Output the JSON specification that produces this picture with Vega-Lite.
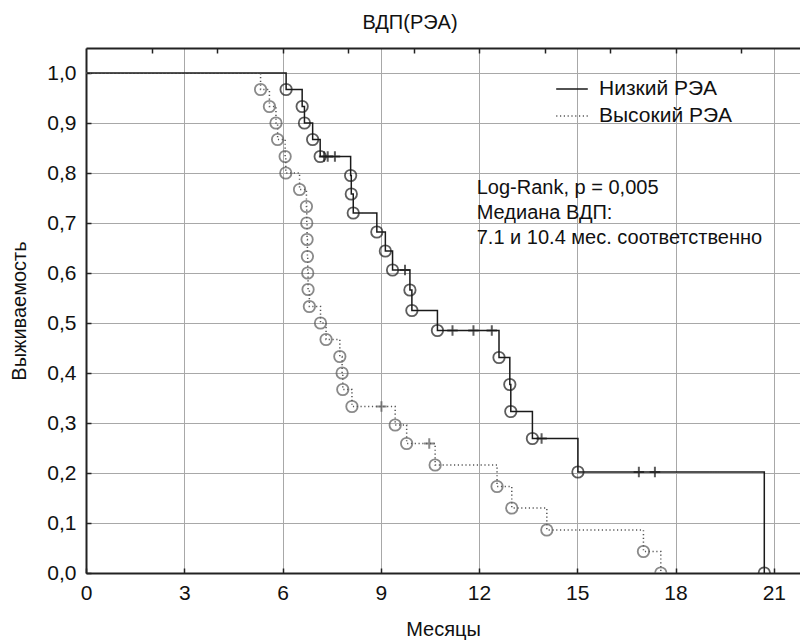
{
  "$schema": "https://vega.github.io/schema/vega-lite/v6.json",
  "autosize": "none",
  "width": 714,
  "height": 525,
  "padding": {"left": 86, "top": 48, "right": 0, "bottom": 68},
  "background": "white",
  "config": {
    "font": "Liberation Sans",
    "view": {"stroke": null},
    "axis": {"labelColor": "#111", "titleColor": "#111", "labelFont": "Liberation Sans", "titleFont": "Liberation Sans", "titleFontWeight": "normal"}
  },
  "title": {"text": "ВДП(РЭА)", "fontSize": 20, "fontWeight": "normal", "color": "#111", "anchor": "middle", "dx": -33, "offset": 14},
  "datasets": {
    "km": [
      {"group": "Низкий РЭА", "t": 0, "s": 1, "type": "start"},
      {"group": "Низкий РЭА", "t": 6.11, "s": 0.967, "type": "event"},
      {"group": "Низкий РЭА", "t": 6.60, "s": 0.933, "type": "event"},
      {"group": "Низкий РЭА", "t": 6.67, "s": 0.900, "type": "event"},
      {"group": "Низкий РЭА", "t": 6.92, "s": 0.867, "type": "event"},
      {"group": "Низкий РЭА", "t": 7.15, "s": 0.833, "type": "event"},
      {"group": "Низкий РЭА", "t": 7.27, "s": 0.833, "type": "censor"},
      {"group": "Низкий РЭА", "t": 7.38, "s": 0.833, "type": "censor"},
      {"group": "Низкий РЭА", "t": 7.60, "s": 0.833, "type": "censor"},
      {"group": "Низкий РЭА", "t": 8.08, "s": 0.795, "type": "event"},
      {"group": "Низкий РЭА", "t": 8.10, "s": 0.758, "type": "event"},
      {"group": "Низкий РЭА", "t": 8.16, "s": 0.720, "type": "event"},
      {"group": "Низкий РЭА", "t": 8.88, "s": 0.682, "type": "event"},
      {"group": "Низкий РЭА", "t": 9.14, "s": 0.644, "type": "event"},
      {"group": "Низкий РЭА", "t": 9.36, "s": 0.606, "type": "event"},
      {"group": "Низкий РЭА", "t": 9.74, "s": 0.606, "type": "censor"},
      {"group": "Низкий РЭА", "t": 9.89, "s": 0.566, "type": "event"},
      {"group": "Низкий РЭА", "t": 9.95, "s": 0.525, "type": "event"},
      {"group": "Низкий РЭА", "t": 10.73, "s": 0.485, "type": "event"},
      {"group": "Низкий РЭА", "t": 11.19, "s": 0.485, "type": "censor"},
      {"group": "Низкий РЭА", "t": 11.83, "s": 0.485, "type": "censor"},
      {"group": "Низкий РЭА", "t": 12.39, "s": 0.485, "type": "censor"},
      {"group": "Низкий РЭА", "t": 12.61, "s": 0.431, "type": "event"},
      {"group": "Низкий РЭА", "t": 12.94, "s": 0.377, "type": "event"},
      {"group": "Низкий РЭА", "t": 12.97, "s": 0.323, "type": "event"},
      {"group": "Низкий РЭА", "t": 13.63, "s": 0.269, "type": "event"},
      {"group": "Низкий РЭА", "t": 13.91, "s": 0.269, "type": "censor"},
      {"group": "Низкий РЭА", "t": 15.02, "s": 0.202, "type": "event"},
      {"group": "Низкий РЭА", "t": 16.88, "s": 0.202, "type": "censor"},
      {"group": "Низкий РЭА", "t": 17.37, "s": 0.202, "type": "censor"},
      {"group": "Низкий РЭА", "t": 20.71, "s": 0, "type": "event"},
      {"group": "Высокий РЭА", "t": 0, "s": 1, "type": "start"},
      {"group": "Высокий РЭА", "t": 5.33, "s": 0.967, "type": "event"},
      {"group": "Высокий РЭА", "t": 5.60, "s": 0.933, "type": "event"},
      {"group": "Высокий РЭА", "t": 5.80, "s": 0.900, "type": "event"},
      {"group": "Высокий РЭА", "t": 5.85, "s": 0.867, "type": "event"},
      {"group": "Высокий РЭА", "t": 6.08, "s": 0.833, "type": "event"},
      {"group": "Высокий РЭА", "t": 6.10, "s": 0.800, "type": "event"},
      {"group": "Высокий РЭА", "t": 6.52, "s": 0.767, "type": "event"},
      {"group": "Высокий РЭА", "t": 6.73, "s": 0.733, "type": "event"},
      {"group": "Высокий РЭА", "t": 6.74, "s": 0.700, "type": "event"},
      {"group": "Высокий РЭА", "t": 6.75, "s": 0.667, "type": "event"},
      {"group": "Высокий РЭА", "t": 6.76, "s": 0.633, "type": "event"},
      {"group": "Высокий РЭА", "t": 6.77, "s": 0.600, "type": "event"},
      {"group": "Высокий РЭА", "t": 6.78, "s": 0.567, "type": "event"},
      {"group": "Высокий РЭА", "t": 6.82, "s": 0.533, "type": "event"},
      {"group": "Высокий РЭА", "t": 7.16, "s": 0.500, "type": "event"},
      {"group": "Высокий РЭА", "t": 7.33, "s": 0.467, "type": "event"},
      {"group": "Высокий РЭА", "t": 7.75, "s": 0.433, "type": "event"},
      {"group": "Высокий РЭА", "t": 7.82, "s": 0.400, "type": "event"},
      {"group": "Высокий РЭА", "t": 7.84, "s": 0.367, "type": "event"},
      {"group": "Высокий РЭА", "t": 8.12, "s": 0.333, "type": "event"},
      {"group": "Высокий РЭА", "t": 9.02, "s": 0.333, "type": "censor"},
      {"group": "Высокий РЭА", "t": 9.44, "s": 0.296, "type": "event"},
      {"group": "Высокий РЭА", "t": 9.79, "s": 0.259, "type": "event"},
      {"group": "Высокий РЭА", "t": 10.48, "s": 0.259, "type": "censor"},
      {"group": "Высокий РЭА", "t": 10.66, "s": 0.216, "type": "event"},
      {"group": "Высокий РЭА", "t": 12.55, "s": 0.173, "type": "event"},
      {"group": "Высокий РЭА", "t": 13.00, "s": 0.130, "type": "event"},
      {"group": "Высокий РЭА", "t": 14.07, "s": 0.086, "type": "event"},
      {"group": "Высокий РЭА", "t": 17.02, "s": 0.043, "type": "event"},
      {"group": "Высокий РЭА", "t": 17.55, "s": 0, "type": "event"}
    ]
  },
  "data": {"name": "km"},
  "layer": [
    {
      "mark": {"type": "line", "interpolate": "step-after", "strokeWidth": 1.5, "clip": true},
      "encoding": {
        "x": {
          "field": "t", "type": "quantitative",
          "scale": {"domain": [0, 21.8], "nice": false, "zero": false},
          "axis": {
            "orient": "bottom", "values": [0, 3, 6, 9, 12, 15, 18, 21], "format": "d",
            "tickSize": -5, "tickColor": "#222", "tickWidth": 1.5,
            "domainColor": "#222", "domainWidth": 2,
            "grid": true, "gridColor": "#a8a8a8", "gridWidth": 1,
            "labelFontSize": 21, "labelPadding": 14, "labelFlush": false,
            "title": "Месяцы", "titleFontSize": 20, "titlePadding": 16
          }
        },
        "y": {
          "field": "s", "type": "quantitative",
          "scale": {"domain": [0, 1.05], "nice": false},
          "axis": {
            "values": [0, 0.1, 0.2, 0.3, 0.4, 0.5, 0.6, 0.7, 0.8, 0.9, 1.0],
            "labelExpr": "replace(format(datum.value, '.1f'), '.', ',')",
            "tickSize": -5, "tickColor": "#222", "tickWidth": 1.5,
            "domainColor": "#222", "domainWidth": 2,
            "grid": true, "gridColor": "#a8a8a8", "gridWidth": 1,
            "labelFontSize": 21, "labelPadding": 15, "labelFlush": false,
            "title": "Выживаемость", "titleFontSize": 20, "titlePadding": 17
          }
        },
        "color": {
          "field": "group", "type": "nominal",
          "scale": {"domain": ["Низкий РЭА", "Высокий РЭА"], "range": ["#1a1a1a", "#555555"]},
          "legend": {
            "title": null, "orient": "none", "legendX": 469, "legendY": 24,
            "symbolType": "stroke", "symbolSize": 1000, "symbolStrokeWidth": 1.5,
            "labelFontSize": 21, "labelColor": "#111", "labelOffset": 10, "rowPadding": -7,
            "labelFont": "Liberation Sans"
          }
        },
        "strokeDash": {
          "field": "group", "type": "nominal",
          "scale": {"domain": ["Низкий РЭА", "Высокий РЭА"], "range": [[1, 0], [1.2, 2.6]]},
          "legend": {
            "title": null, "orient": "none", "legendX": 469, "legendY": 24,
            "symbolType": "stroke", "symbolSize": 1000, "symbolStrokeWidth": 1.5,
            "labelFontSize": 21, "labelColor": "#111", "labelOffset": 10, "rowPadding": -7,
            "labelFont": "Liberation Sans"
          }
        }
      }
    },
    {
      "transform": [{"filter": "datum.type === 'event'"}],
      "mark": {"type": "point", "shape": "circle", "filled": false, "size": 130, "strokeWidth": 1.8, "clip": true},
      "encoding": {
        "x": {"field": "t", "type": "quantitative", "axis": null},
        "y": {"field": "s", "type": "quantitative"},
        "stroke": {
          "field": "group", "type": "nominal",
          "scale": {"domain": ["Низкий РЭА", "Высокий РЭА"], "range": ["#1a1a1a", "#5a5a5a"]},
          "legend": null
        }
      }
    },
    {
      "transform": [{"filter": "datum.type === 'censor'"}],
      "mark": {"type": "point", "shape": "M-1,0L1,0M0,-1L0,1", "filled": false, "size": 110, "strokeWidth": 2, "clip": true},
      "encoding": {
        "x": {"field": "t", "type": "quantitative", "axis": null},
        "y": {"field": "s", "type": "quantitative"},
        "stroke": {"field": "group", "type": "nominal", "legend": null}
      }
    },
    {
      "data": {"values": [{}]},
      "mark": {"type": "text", "align": "left", "baseline": "top", "fontSize": 20, "lineHeight": 25, "color": "#111", "font": "Liberation Sans"},
      "encoding": {
        "x": {
          "datum": 11.93, "type": "quantitative",
          "axis": {
            "orient": "top", "values": [2, 4, 6, 8, 10, 12, 14, 16, 18, 20],
            "labels": false, "title": null, "grid": false,
            "tickSize": -5, "tickColor": "#222", "tickWidth": 1.5,
            "domainColor": "#222", "domainWidth": 2
          }
        },
        "y": {"datum": 0.79, "type": "quantitative"},
        "text": {"value": ["Log-Rank, p = 0,005", "Медиана ВДП:", "7.1 и 10.4 мес. соответственно"]}
      }
    }
  ],
  "resolve": {"axis": {"x": "independent"}}
}
